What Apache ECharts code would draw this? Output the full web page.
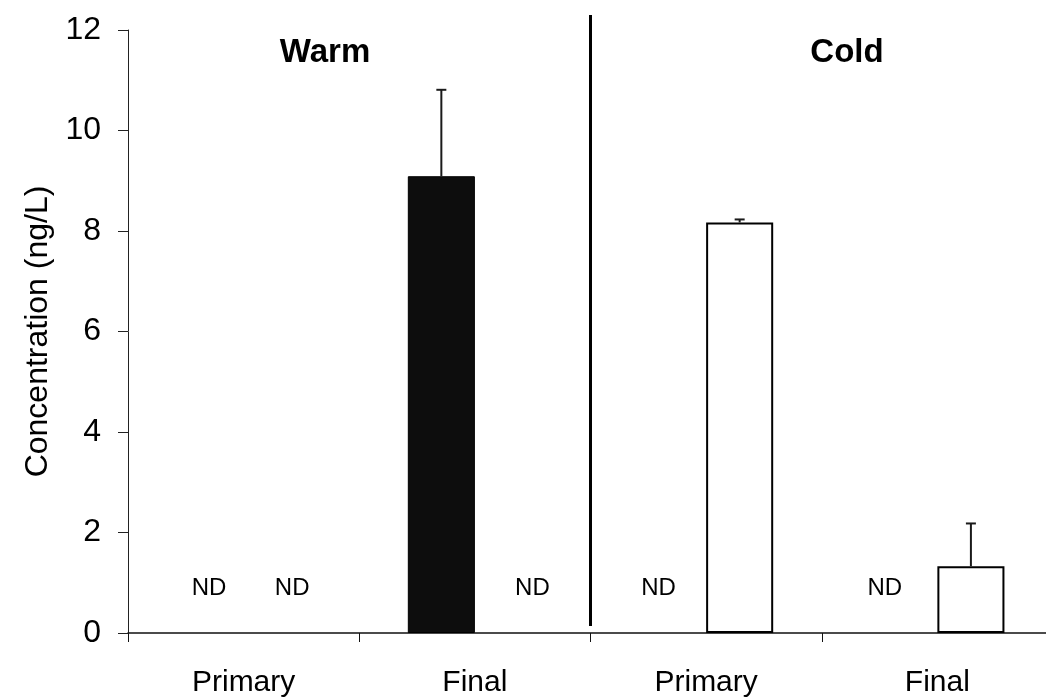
<!DOCTYPE html>
<html>
<head>
<meta charset="utf-8">
<style>
  html, body { margin: 0; padding: 0; background: #fff; }
  #frame { position: relative; width: 1046px; height: 698px; overflow: hidden; }
  #chart { position: absolute; left: 0; top: 0; width: 1053px; height: 698px; }
</style>
<script src="https://cdn.jsdelivr.net/npm/echarts@6/dist/echarts.min.js"></script>
</head>
<body>
<div id="frame"><div id="chart"></div></div>
<script>
// Sampling stages along the x axis (Warm pair, then Cold pair)
const categories = ['Primary', 'Final', 'Primary', 'Final'];
const yTicks = [0, 2, 4, 6, 8, 10, 12];

// Mean concentrations (ng/L); 0 where the analyte was not detected
const darkValues  = [0, 9.09, 0, 0];
const whiteValues = [0, 0, 8.17, 1.33];
// Standard deviation (upward error bar length)
const darkErrors  = [0, 1.72, 0, 0];
const whiteErrors = [0, 0, 0.06, 0.85];
// Not-detected flags
const darkND  = [true, false, true, true];
const whiteND = [true, true, false, false];

const groupTitles = ['Warm', 'Cold'];
// Vertical extent of the Warm | Cold separator, in axis units
const dividerSpan = [0.14, 12.3];

const FONT = "'Liberation Sans', Arial, Helvetica, sans-serif";
const SLOT = 0.145;       // bar centre offset, fraction of category width
const ndShift = { dark: [-1, 0, -14, -19], white: [15, 24, 0, 0] };

function barData(values, nd, shifts, style) {
  return values.map(function (v, i) {
    if (nd[i]) {
      return {
        value: v,
        itemStyle: { color: 'rgba(0,0,0,0)', borderWidth: 0 },
        label: {
          show: true, formatter: 'ND', position: 'top', distance: 33,
          offset: [shifts[i], 0],
          color: '#000', fontFamily: FONT, fontSize: 24
        }
      };
    }
    return { value: v, itemStyle: style };
  });
}

function errorData(values, errors, slot) {
  const out = [];
  values.forEach(function (v, i) {
    if (errors[i] > 0) out.push([i, v + errors[i], v, slot]);
  });
  return out;
}

function renderError(params, api) {
  const cat = api.value(0);
  const top = api.coord([cat, api.value(1)]);
  const base = api.coord([cat, api.value(2)]);
  const bw = api.size([1, 0])[0];
  const x = top[0] + api.value(3) * bw * SLOT;
  const stroke = { stroke: '#1a1a1a', lineWidth: 2 };
  return {
    type: 'group',
    children: [
      { type: 'line', shape: { x1: x, y1: base[1], x2: x, y2: top[1] }, style: stroke },
      { type: 'line', shape: { x1: x - 5, y1: top[1], x2: x + 5, y2: top[1] }, style: stroke }
    ]
  };
}

const chart = echarts.init(document.getElementById('chart'), null, { renderer: 'canvas' });

chart.setOption({
  backgroundColor: '#ffffff',
  animation: false,
  grid: { left: 128, right: 0, top: 30, bottom: 63, containLabel: false },
  graphic: [
    { type: 'text', x: 325, y: 53,
      style: { text: groupTitles[0], font: 'bold 33px ' + FONT, fill: '#000',
               textAlign: 'center', textVerticalAlign: 'middle' } },
    { type: 'text', x: 847, y: 53,
      style: { text: groupTitles[1], font: 'bold 33px ' + FONT, fill: '#000',
               textAlign: 'center', textVerticalAlign: 'middle' } }
  ],
  xAxis: [
    {
      type: 'category',
      data: categories,
      boundaryGap: true,
      axisLine: { show: true, lineStyle: { color: '#111', width: 1.5 } },
      axisTick: { show: true, inside: false, length: 9, alignWithLabel: false,
                  lineStyle: { color: '#111', width: 1 } },
      axisLabel: { color: '#000', fontFamily: FONT, fontSize: 30, margin: 35 },
      splitLine: { show: false }
    },
    { type: 'value', min: 0, max: 4, show: false }
  ],
  yAxis: {
    type: 'value',
    min: yTicks[0],
    max: yTicks[yTicks.length - 1],
    interval: 2,
    name: 'Concentration (ng/L)',
    nameLocation: 'middle',
    nameGap: 71,
    nameRotate: 90,
    nameTextStyle: { color: '#000', fontFamily: FONT, fontSize: 32 },
    axisLine: { show: true, lineStyle: { color: '#222', width: 1 } },
    axisTick: { show: true, inside: false, length: 10, lineStyle: { color: '#222', width: 1 } },
    axisLabel: { color: '#000', fontFamily: FONT, fontSize: 32, margin: 27 },
    splitLine: { show: false }
  },
  series: [
    {
      name: 'dark',
      type: 'bar',
      barWidth: '29%',
      barGap: '0%',
      data: barData(darkValues, darkND, ndShift.dark,
                    { color: '#0d0d0d', borderColor: '#000', borderWidth: 1 }),
      z: 2
    },
    {
      name: 'white',
      type: 'bar',
      barWidth: '29%',
      barGap: '0%',
      data: barData(whiteValues, whiteND, ndShift.white,
                    { color: '#ffffff', borderColor: '#000', borderWidth: 2 }),
      z: 2
    },
    {
      type: 'custom',
      renderItem: renderError,
      data: errorData(darkValues, darkErrors, -1).concat(errorData(whiteValues, whiteErrors, 1)),
      encode: { x: 0, y: 1 },
      z: 3,
      silent: true
    },
    {
      type: 'line',
      xAxisIndex: 1,
      data: [[2, dividerSpan[0]], [2, dividerSpan[1]]],
      symbol: 'none',
      clip: false,
      lineStyle: { color: '#000', width: 3 },
      z: 4,
      silent: true
    }
  ]
});
</script>
</body>
</html>
